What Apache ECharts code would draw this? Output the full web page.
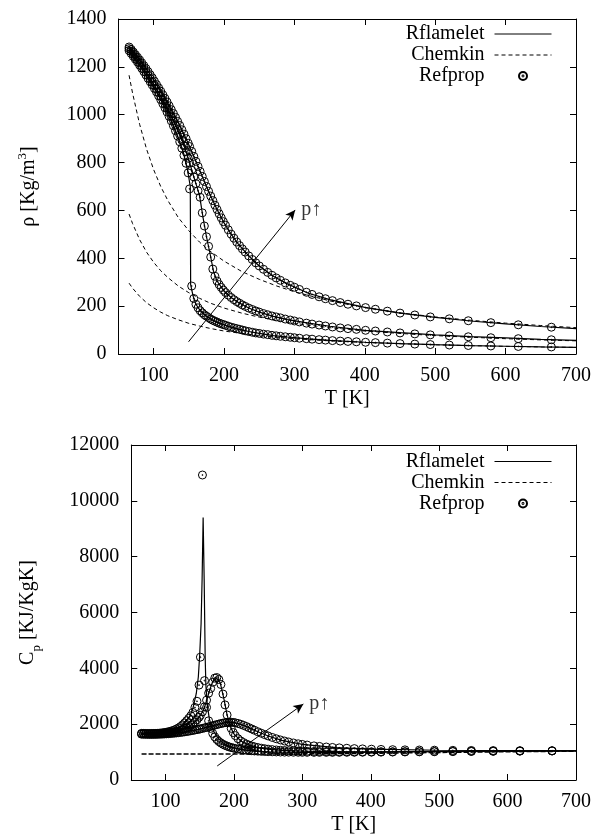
<!DOCTYPE html>
<html>
<head>
<meta charset="utf-8">
<script src="https://cdn.jsdelivr.net/npm/echarts@6.0.0/dist/echarts.min.js"></script>
<style>
  html, body { margin: 0; padding: 0; background: #fff; }
</style>
</head>
<body>
<div id="chart" style="width: 597px; height: 840px;"></div>
<script>
// tick labels
var tempTicks = [100, 200, 300, 400, 500, 600, 700];

// Refprop temperatures (circles), same grid for both plots
var refT = [65,68,71,74,77,80,83,86,89,92,95,98,101,104,107,110,113,116,119,122,125,128,131,134,137,140,143,146,149,
  151,154,157,160,163,166,169,172,175,178,181,184,187,190,193,196,199,
  202,206,210,214,218,222,226,230,235,240,245,250,256,262,268,274,280,287,294,300,
  307,317,325,335,344,354,365,376,388,401,415,432,450,471,493,520,547,579,618,665];

// density, Refprop, three pressures (low, mid, high)
var rhoRefLow = [1268,1256,1244,1232,1220,1207,1194,1180,1166,1152,1138,1124,1110,1095,1079,1063,1046,1029,1011,993,974,954,933,911,887,860,830,797,757,
  690,284,232,208,193,181,172,164,158,152,146,141,137,133,129,126,123,
  120,116,112,109,106,103,100,97,94,91,88,86,83,81,78,76,74,72,70,68,
  66,64,62,60,58,56,54,52.5,51,49,47.5,45.5,43.5,41.5,39.5,37.5,35.5,33.5,31.5,29.5];
var rhoRefMid = [1276,1265,1253,1241,1229,1217,1204,1191,1178,1165,1151,1137,1123,1108,1093,1078,1062,1046,1029,1012,994,976,957,937,916,894,870,845,818,
  799,768,740,712,682,655,590,535,490,450,405,355,325,305,290,278,267,
  257,246,236,227,219,212,205,199,192,186,180,175,169,164,159,155,151,146,142,138,
  134,129,125,121,117,113,109,106,103,99,96,92,88,84,80,76,72,68,64,59.5];
var rhoRefHigh = [1283,1273,1262,1251,1240,1229,1217,1205,1193,1180,1167,1154,1140,1126,1112,1098,1083,1068,1053,1037,1021,1005,989,972,955,937,919,900,881,
  867,847,826,805,784,763,742,721,700,680,660,641,622,604,586,569,553,
  538,519,501,484,468,453,439,426,410,395,381,368,354,341,329,318,308,297,287,279,
  270,258,249,239,231,223,215,208,201,194,187,179,171,163,155,147,139,131,122,112];

// density, Rflamelet lines
var rhoLineT = [65,75,85,95,105,115,125,135,142,148,152,152.5,156,160,165,170,175,180,185,190,200,210,220,235,250,270,290,320,350,400,450,500,550,600,650,700];
var rhoLineLow = [1268,1228,1185,1138,1090,1035,974,903,845,770,700,290,242,208,186,170,158,148,140,133,122,112,104,94,86,77,71,63,57,49,43.5,39,35.3,32.4,30,28];
var rhoLineMid = [1276,1237,1195,1151,1103,1051,994,930,880,827,790,785,750,712,665,572,490,420,345,305,263,236,216,192,175,157,144,129,116,99,89,80,73,67,61,57];
var rhoLineHigh = [1283,1247,1209,1167,1121,1073,1021,966,925,887,860,857,833,805,770,735,700,667,635,604,548,501,460,410,368,325,293,254,227,195,171,153,138,126,115,106];

// Chemkin (dashed)
var chemT = [65,70,80,90,100,110,120,135,150,165,180,200,225,250,275,300,350,400,450,500,550,600,650,700];
var rhoChemHigh = [1165,1090,960,855,770,700,642,570,515,468,430,388,345,312,284,260,222,194,172,155,141,129,119,110];
var rhoChemMid = [585,545,478,425,383,348,320,284,256,233,213,192,171,154,140,128,110,96,86,77,70,64,59,55];
var rhoChemLow = [296,275,241,214,193,175,160,143,128,117,107,96,86,77,70,64,55,48,43,38.5,35,32,29.6,27.5];

// heat capacity, Refprop
var cpRefLow = [1670,1668,1666,1665,1665,1666,1668,1671,1675,1681,1689,1699,1711,1726,1744,1766,1793,1826,1866,1915,1975,2045,2125,2210,2300,2420,2600,2820,3400,
  4400,10925,3560,2600,2120,1850,1670,1545,1450,1380,1325,1280,1243,1212,1186,1164,1145,
  1129,1110,1094,1080,1068,1058,1049,1041,1033,1026,1020,1015,1010,1006,1002,999,997,995,993,992,
  991,990,990,990,990,991,992,993,995,997,999,1002,1005,1009,1013,1018,1023,1028,1034,1040];
var cpRefMid = [1660,1657,1655,1653,1652,1652,1653,1655,1658,1662,1667,1673,1680,1689,1699,1711,1725,1741,1760,1782,1808,1838,1873,1913,1960,2015,2080,2155,2245,
  2315,2440,2620,2860,3110,3280,3500,3650,3670,3600,3420,3080,2690,2330,2050,1850,1700,
  1590,1480,1400,1340,1290,1250,1217,1190,1162,1139,1120,1104,1089,1076,1065,1056,1049,1042,1036,1032,
  1028,1023,1020,1017,1015,1013,1012,1011,1011,1011,1012,1013,1015,1018,1021,1025,1029,1033,1038,1044];
var cpRefHigh = [1640,1638,1636,1635,1634,1634,1635,1636,1638,1641,1644,1648,1653,1658,1664,1671,1678,1686,1695,1704,1714,1725,1737,1749,1762,1776,1790,1805,1821,
  1832,1849,1867,1886,1905,1925,1945,1965,1985,2004,2022,2038,2052,2062,2068,2068,2062,
  2050,2026,1995,1958,1917,1873,1828,1783,1728,1675,1625,1578,1525,1477,1434,1396,1362,1327,1297,1274,
  1251,1222,1203,1182,1166,1151,1137,1125,1114,1104,1095,1086,1079,1073,1068,1062,1058,1054,1051,1048];

// heat capacity, Rflamelet lines
var cpLineT = [65,75,85,95,105,115,125,135,140,145,148,150,152,153.5,155,156.5,158,159,161,164,167,170,175,180,185,190,195,200,210,220,235,250,270,300,350,400,500,600,700];
var cpLineLow = [1670,1666,1672,1695,1740,1825,1970,2260,2560,3100,3700,4500,5600,7200,9400,7200,4400,3400,2700,2200,1930,1760,1560,1420,1320,1250,1195,1155,1095,1058,1028,1012,1000,992,990,995,1012,1028,1045];
var cpLineMid = [1660,1652,1654,1667,1692,1735,1808,1928,2015,2130,2215,2280,2355,2410,2480,2560,2680,2760,2920,3180,3400,3560,3640,3480,2950,2330,1900,1650,1400,1270,1162,1104,1062,1032,1014,1011,1022,1035,1046];
var cpLineHigh = [1640,1634,1636,1644,1660,1683,1714,1753,1776,1800,1815,1826,1838,1846,1855,1864,1874,1880,1893,1912,1932,1952,1985,2016,2043,2062,2068,2055,1995,1895,1728,1578,1420,1274,1158,1105,1066,1052,1050];

// heat capacity, Chemkin (same for all pressures)
var cpChem = [930,930,930,930,930,930,930,930,930,930,931,931,932,933,934,936,945,958,972,987,1000,1012,1022,1032];

// "p increasing" arrows, [T, value] start and end
var arrowRho = [[149.5, 51], [301, 602]];
var arrowCp = [[175.6, 503], [301.5, 2722]];

var FONT = 'Liberation Serif';
var ring = 'path://M10,0A10,10,0,1,1,10,20A10,10,0,1,1,10,0ZM10,8.8A1.2,1.2,0,1,1,10,11.2A1.2,1.2,0,1,1,10,8.8Z';

function pairs(xs, ys) {
  return xs.map(function (x, i) { return [x, ys[i]]; });
}

function txt(extra) {
  var s = { fontFamily: FONT, fontSize: 20, color: '#000' };
  for (var k in extra) s[k] = extra[k];
  return s;
}

function xAxisPair(grid) {
  var base = {
    type: 'value', gridIndex: grid, min: 50, max: 700,
    axisLine: { show: true, onZero: false, lineStyle: { color: '#000', width: 1 } },
    axisTick: { show: true, inside: true, length: 6, customValues: tempTicks, lineStyle: { color: '#000' } },
    splitLine: { show: false }
  };
  var bottom = Object.assign({}, base, {
    position: 'bottom',
    axisLabel: txt({ show: true, customValues: tempTicks, margin: 12, formatter: function (v) { return String(v); } }),
    name: 'T [K]', nameLocation: 'middle', nameGap: 35, nameTextStyle: txt({})
  });
  var top = Object.assign({}, base, { position: 'top', axisLabel: { show: false } });
  return [bottom, top];
}

function yAxisPair(grid, max, step, name, gap, rich) {
  var base = {
    type: 'value', gridIndex: grid, min: 0, max: max, interval: step,
    axisLine: { show: true, onZero: false, lineStyle: { color: '#000', width: 1 } },
    axisTick: { show: true, inside: true, length: 6, lineStyle: { color: '#000' } },
    splitLine: { show: false }
  };
  var left = Object.assign({}, base, {
    position: 'left',
    axisLabel: txt({ margin: 12, formatter: function (v) { return String(v); } }),
    name: name, nameLocation: 'middle', nameGap: gap,
    nameTextStyle: txt({ rich: rich })
  });
  var right = Object.assign({}, base, { position: 'right', axisLabel: { show: false } });
  return [left, right];
}

function solid(name, data, xi, yi) {
  return { name: name, type: 'line', xAxisIndex: xi, yAxisIndex: yi, data: data,
    symbol: 'none', silent: true, z: 2,
    itemStyle: { color: 'rgba(0,0,0,0)', borderWidth: 0 },
    lineStyle: { color: '#000', width: 1.2, type: 'solid' } };
}
function dashed(name, data, xi, yi, w, dash) {
  return { name: name, type: 'line', xAxisIndex: xi, yAxisIndex: yi, data: data,
    symbol: 'none', silent: true, z: 2,
    itemStyle: { color: 'rgba(0,0,0,0)', borderWidth: 0 },
    lineStyle: { color: '#000', width: w || 1, type: dash || [4, 3] } };
}
function circles(name, data, xi, yi) {
  return { name: name, type: 'scatter', xAxisIndex: xi, yAxisIndex: yi, data: data,
    symbol: ring, symbolSize: 8, silent: true, z: 3,
    itemStyle: { color: 'rgba(0,0,0,0)', borderColor: '#000', borderWidth: 1, opacity: 1 } };
}
function arrow(pts, xi, yi) {
  return [
    { type: 'line', xAxisIndex: xi, yAxisIndex: yi, data: [], silent: true,
      markLine: { silent: true, animation: false, symbol: ['none', 'arrow'], symbolSize: [7, 10],
        lineStyle: { color: '#000', width: 1, type: 'solid' }, label: { show: false },
        data: [[{ coord: pts[0] }, { coord: pts[1] }]] } },
    { type: 'scatter', xAxisIndex: xi, yAxisIndex: yi, data: [pts[1]], symbolSize: 0, silent: true,
      label: txt({ show: true, position: 'right', distance: 6, formatter: 'p\u2191' }) }
  ];
}

function legendAt(top) {
  return {
    orient: 'vertical', right: 45, top: top, align: 'right', padding: 0,
    itemGap: 0, itemWidth: 57, itemHeight: 8, selectedMode: false,
    data: ['Rflamelet', 'Chemkin', 'Refprop'],
    formatter: function (n) { return n + ' '; },
    lineStyle: { width: 1 },
    textStyle: txt({ lineHeight: 21 })
  };
}

var chart = echarts.init(document.getElementById('chart'), null, { renderer: 'canvas' });

var series = [
  solid('Rflamelet', pairs(rhoLineT, rhoLineLow), 0, 0),
  solid('Rflamelet', pairs(rhoLineT, rhoLineMid), 0, 0),
  solid('Rflamelet', pairs(rhoLineT, rhoLineHigh), 0, 0),
  dashed('Chemkin', pairs(chemT, rhoChemHigh), 0, 0),
  dashed('Chemkin', pairs(chemT, rhoChemMid), 0, 0),
  dashed('Chemkin', pairs(chemT, rhoChemLow), 0, 0),
  circles('Refprop', pairs(refT, rhoRefLow).concat(pairs(refT, rhoRefMid), pairs(refT, rhoRefHigh)), 0, 0),
  solid('Rflamelet', pairs(cpLineT, cpLineLow), 2, 2),
  solid('Rflamelet', pairs(cpLineT, cpLineMid), 2, 2),
  solid('Rflamelet', pairs(cpLineT, cpLineHigh), 2, 2),
  dashed('Chemkin', pairs(chemT, cpChem), 2, 2, 1.5, [5, 2]),
  circles('Refprop', pairs(refT, cpRefLow).concat(pairs(refT, cpRefMid), pairs(refT, cpRefHigh)), 2, 2)
].concat(arrow(arrowRho, 0, 0), arrow(arrowCp, 2, 2));

chart.setOption({
  animation: false,
  backgroundColor: '#fff',
  grid: [
    { left: 118.5, top: 19, width: 457.5, height: 335, outerBoundsMode: 'none', containLabel: false },
    { left: 131.3, top: 445, width: 444.7, height: 335, outerBoundsMode: 'none', containLabel: false }
  ],
  legend: [legendAt(23.5), legendAt(451)],
  xAxis: xAxisPair(0).concat(xAxisPair(1)),
  yAxis: yAxisPair(0, 1400, 200, '{t|\u03c1 [Kg/m}{s|3}{t|]}', 78,
      { t: { fontFamily: FONT, fontSize: 20, color: '#000', lineHeight: 24 },
        s: { fontFamily: FONT, fontSize: 13, color: '#000', verticalAlign: 'top', lineHeight: 13 } })
    .concat(yAxisPair(1, 12000, 2000, '{t|C}{s|p}{t| [KJ/KgK]}', 92,
      { t: { fontFamily: FONT, fontSize: 20, color: '#000', lineHeight: 24 },
        s: { fontFamily: FONT, fontSize: 13, color: '#000', verticalAlign: 'bottom', lineHeight: 13, padding: [0, 0, -4, 0] } })),
  series: series
});
</script>
</body>
</html>
